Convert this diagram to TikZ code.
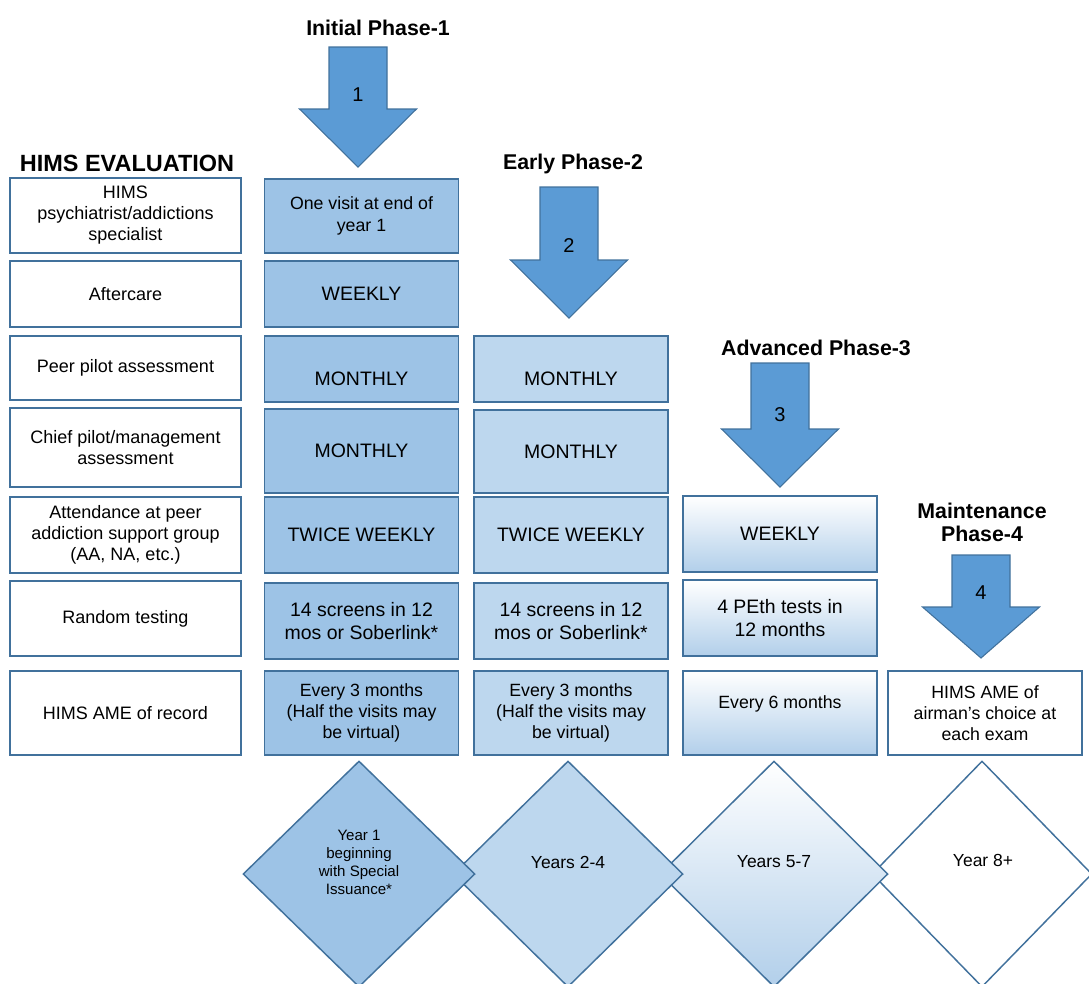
\documentclass[tikz,border=0pt]{standalone}
\usepackage{fontspec}
\setmainfont{Liberation Sans}
\usepackage{tikz}
\usetikzlibrary{shapes.geometric, positioning, calc}
\definecolor{edgeblue}{HTML}{41719C}
\definecolor{arrowblue}{HTML}{5B9BD5}
\definecolor{phaseone}{HTML}{9DC3E6}
\definecolor{phasetwo}{HTML}{BDD7EE}
\definecolor{phasethree}{HTML}{B2CFEA}
\newcommand{\dropby}[2]{\raisebox{-#1}[\height][\depth]{#2}}
\newcommand{\phasearrow}[6]{%
  \draw[bigarrow] ({#2-29},#3) -- ({#2+29},#3) -- ({#2+29},#4) -- ({#2+58.5},#4)
    -- (#2,#5) -- ({#2-58.5},#4) -- ({#2-29},#4) -- cycle;
  \node[arrownum] (#1) at (#2,{#4-14}) {#6};}

\begin{document}
\begin{tikzpicture}[
        x={(0.75pt,0)}, y={(0,-0.75pt)},
        cell/.style={rectangle, draw=edgeblue, line width=1.1pt, align=center, inner sep=2pt},
        evalbox/.style={cell, fill=white, minimum width=173.25pt, font=\fontsize{13.5}{15.75}\selectfont},
        ph1box/.style={cell, fill=phaseone, minimum width=145.5pt},
        ph2box/.style={cell, fill=phasetwo, minimum width=145.5pt},
        ph3box/.style={cell, top color=white, bottom color=phasethree, minimum width=145.5pt},
        ph4box/.style={cell, fill=white, minimum width=145.5pt},
        valbig/.style={font=\fontsize{14.6}{17.25}\selectfont},
        valsmall/.style={font=\fontsize{13.3}{16}\selectfont},
        phasetitle/.style={font=\fontsize{16}{17.25}\selectfont\bfseries, align=center},
        yearbox/.style={diamond, draw=edgeblue, line width=1.1pt, minimum height=169.5pt, inner sep=0pt},
        yeartext/.style={align=center, font=\fontsize{13.1}{15}\selectfont},
        bigarrow/.style={draw=edgeblue, line width=0.8pt, fill=arrowblue},
        arrownum/.style={font=\fontsize{15}{18}\selectfont}
    ]
    \clip (0,0) rectangle (1089,983);
    \useasboundingbox (0,0) rectangle (1089,983);

    % --- Titles ---
    \node (evaltitle) [font=\fontsize{17.6}{20}\selectfont\bfseries] at (127,163) {HIMS EVALUATION};
    \node (title1) [phasetitle] at (378,28) {Initial Phase-1};
    \node (title2) [phasetitle] at (573,164) {Early Phase-2};
    \node (title3) [phasetitle] at (816,348) {Advanced Phase-3};
    \node (title4) [phasetitle] at (982,522) {Maintenance\\Phase-4};

    % --- Phase arrows ---
    \phasearrow{num1}{358}{47}{109}{167}{1}
    \phasearrow{num2}{569}{187}{260}{318}{2}
    \phasearrow{num3}{780}{363}{429}{487}{3}
    \phasearrow{num4}{981}{555}{607}{658}{4}

    % --- HIMS evaluation column ---
    \node (eval1) [evalbox, minimum height=56.25pt] at (125.5,215.5) {HIMS\\psychiatrist/addictions\\specialist};
    \node (eval2) [evalbox, minimum height=49.5pt] at (125.5,294) {Aftercare};
    \node (eval3) [evalbox, minimum height=48pt] at (125.5,368) {Peer pilot assessment};
    \node (eval4) [evalbox, minimum height=59.25pt] at (125.5,447.5) {Chief pilot/management\\assessment};
    \node (eval5) [evalbox, minimum height=57pt] at (125.5,535) {Attendance at peer\\addiction support group\\(AA, NA, etc.)};
    \node (eval6) [evalbox, minimum height=56.25pt] at (125.5,618.5) {Random testing};
    \node (eval7) [evalbox, minimum height=63pt] at (125.5,713) {HIMS AME of record};

    % --- Initial phase column ---
    \node (init1) [ph1box, valsmall, minimum height=55.5pt] at (361.5,216) {One visit at end of\\year 1};
    \node (init2) [ph1box, valbig, minimum height=49.5pt] at (361.5,294) {WEEKLY};
    \node (init3) [ph1box, valbig, minimum height=49.5pt] at (361.5,369) {\dropby{7.5pt}{MONTHLY}};
    \node (init4) [ph1box, valbig, minimum height=63pt] at (361.5,451) {MONTHLY};
    \node (init5) [ph1box, valbig, minimum height=57pt] at (361.5,535) {TWICE WEEKLY};
    \node (init6) [ph1box, valbig, minimum height=57pt] at (361.5,621) {14 screens in 12\\mos or Soberlink*};
    \node (init7) [ph1box, valsmall, minimum height=63pt] at (361.5,713) {Every 3 months\\(Half the visits may\\be virtual)};

    % --- Early phase column ---
    \node (early3) [ph2box, valbig, minimum height=49.5pt] at (571,369) {\dropby{7.5pt}{MONTHLY}};
    \node (early4) [ph2box, valbig, minimum height=62.25pt] at (571,451.5) {MONTHLY};
    \node (early5) [ph2box, valbig, minimum height=57pt] at (571,535) {TWICE WEEKLY};
    \node (early6) [ph2box, valbig, minimum height=57pt] at (571,621) {14 screens in 12\\mos or Soberlink*};
    \node (early7) [ph2box, valsmall, minimum height=63pt] at (571,713) {Every 3 months\\(Half the visits may\\be virtual)};

    % --- Advanced phase column ---
    \node (adv5) [ph3box, valbig, minimum height=57pt] at (780,534) {WEEKLY};
    \node (adv6) [ph3box, valbig, minimum height=57pt] at (780,618) {4 PEth tests in\\12 months};
    \node (adv7) [ph3box, valsmall, minimum height=63pt] at (780,713) {\dropby{-7pt}{Every 6 months}};

    % --- Maintenance phase column ---
    \node (maint7) [ph4box, valsmall, minimum height=63pt] at (985,713) {HIMS AME of\\airman’s choice at\\each exam};

    % --- Year diamonds (right to left, so the left one lies on top) ---
    \node (year4) [yearbox, fill=white, minimum width=165pt] at (982,874) {};
    \node (year3) [yearbox, top color=white, bottom color=phasethree, minimum width=171pt] at (774,874) {};
    \node (year2) [yearbox, fill=phasetwo, minimum width=172.5pt] at (568,874) {};
    \node (year1) [yearbox, fill=phaseone, minimum width=174pt] at (359,874) {};
    \node (year1txt) [yeartext, font=\fontsize{11.3}{13.5}\selectfont] at (359,862) {Year 1\\beginning\\with Special\\Issuance*};
    \node (year2txt) [yeartext] at (568,862) {Years 2-4};
    \node (year3txt) [yeartext] at (774,862) {Years 5-7};
    \node (year4txt) [yeartext] at (983,860) {Year 8+};
\end{tikzpicture}
\end{document}
